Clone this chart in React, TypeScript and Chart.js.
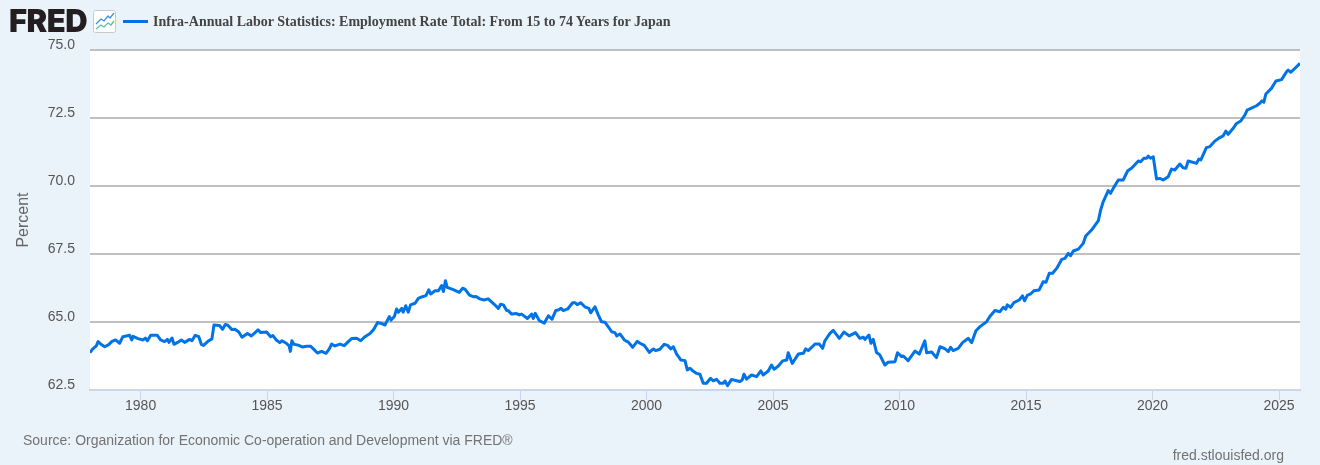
import { useEffect, useRef } from "react"
import { Chart, registerables } from "chart.js"

Chart.register(...registerables)

const seriesName = "Infra-Annual Labor Statistics: Employment Rate Total: From 15 to 74 Years for Japan"
const sourceNote = "Source: Organization for Economic Co-operation and Development via FRED®"
const siteNote = "fred.stlouisfed.org"
const tickYears = [1980, 1985, 1990, 1995, 2000, 2005, 2010, 2015, 2020, 2025]

const dates = [
  1978.0, 1978.1, 1978.25, 1978.32, 1978.42, 1978.58, 1978.74, 1978.87, 1979.01, 1979.17, 1979.3, 1979.57, 1979.65, 1979.7, 1979.9,
  1980.1, 1980.19, 1980.27, 1980.4, 1980.66, 1980.79, 1980.95, 1981.06, 1981.12, 1981.24, 1981.32, 1981.48, 1981.61, 1981.74, 1981.94,
  1982.03, 1982.16, 1982.3, 1982.4, 1982.49, 1982.66, 1982.82, 1982.9, 1983.12, 1983.24, 1983.35, 1983.45, 1983.61, 1983.74, 1983.88,
  1984.01, 1984.22, 1984.38, 1984.47, 1984.64, 1984.75, 1984.98, 1985.14, 1985.23, 1985.36, 1985.5, 1985.59, 1985.76, 1985.87, 1985.92,
  1985.98, 1986.06, 1986.23, 1986.41, 1986.56, 1986.72, 1986.83, 1986.99, 1987.16, 1987.33, 1987.46, 1987.55, 1987.68, 1987.88,
  1988.05, 1988.21, 1988.34, 1988.54, 1988.7, 1988.87, 1989.07, 1989.2, 1989.37, 1989.53, 1989.66, 1989.83, 1989.9,
  1990.03, 1990.12, 1990.19, 1990.32, 1990.38, 1990.48, 1990.58, 1990.67, 1990.85, 1990.98, 1991.11, 1991.28, 1991.39, 1991.47, 1991.64, 1991.77, 1991.9, 1991.97,
  1992.05, 1992.12, 1992.36, 1992.6, 1992.73, 1992.82, 1993.0, 1993.15, 1993.26, 1993.41, 1993.57, 1993.74,
  1993.97, 1994.14, 1994.23, 1994.34, 1994.47, 1994.53, 1994.67, 1994.86, 1994.97, 1995.06, 1995.29, 1995.46, 1995.52, 1995.6, 1995.76, 1995.96,
  1996.12, 1996.26, 1996.41, 1996.51, 1996.62, 1996.71, 1996.88, 1997.08, 1997.17, 1997.26, 1997.39, 1997.56, 1997.72, 1997.79, 1997.96,
  1998.09, 1998.22, 1998.36, 1998.53, 1998.62, 1998.75, 1998.82, 1998.95, 1999.12, 1999.28, 1999.45, 1999.63, 1999.74, 1999.91,
  2000.11, 2000.27, 2000.36, 2000.53, 2000.7, 2000.83, 2000.96, 2001.06, 2001.19, 2001.36, 2001.52, 2001.61, 2001.72, 2001.82, 2001.98,
  2002.11, 2002.24, 2002.37, 2002.53, 2002.64, 2002.77, 2002.9, 2003.03, 2003.1, 2003.2, 2003.36, 2003.56, 2003.69, 2003.78, 2003.85, 2003.95,
  2004.15, 2004.35, 2004.52, 2004.61, 2004.81, 2004.94, 2005.04, 2005.21, 2005.38, 2005.54, 2005.6, 2005.76, 2006.0, 2006.2, 2006.29, 2006.39, 2006.66, 2006.83, 2006.96,
  2007.05, 2007.25, 2007.38, 2007.62, 2007.8, 2008.01, 2008.26, 2008.43, 2008.57, 2008.63, 2008.79, 2008.87, 2008.96, 2009.09, 2009.22, 2009.42, 2009.55,
  2009.82, 2009.92, 2010.08, 2010.15, 2010.34, 2010.48, 2010.61, 2010.78, 2011.0, 2011.07, 2011.27, 2011.46, 2011.6, 2011.79, 2011.93,
  2012.02, 2012.12, 2012.32, 2012.49, 2012.72, 2012.85, 2013.02, 2013.18, 2013.44, 2013.57, 2013.77, 2013.97, 2014.1, 2014.2, 2014.26, 2014.39, 2014.52, 2014.73, 2014.86, 2014.94,
  2015.05, 2015.18, 2015.31, 2015.52, 2015.68, 2015.79, 2015.92, 2016.05, 2016.21, 2016.41, 2016.54, 2016.67, 2016.76, 2016.87,
  2017.07, 2017.26, 2017.36, 2017.59, 2017.86, 2017.95, 2018.05, 2018.25, 2018.34, 2018.47, 2018.65, 2018.84, 2019.02, 2019.17, 2019.44, 2019.53, 2019.66, 2019.77, 2019.83, 2019.92,
  2020.03, 2020.16, 2020.29, 2020.42, 2020.62, 2020.75, 2020.88, 2021.08, 2021.21, 2021.32, 2021.41, 2021.61, 2021.74, 2021.83, 2021.91,
  2022.13, 2022.27, 2022.46, 2022.66, 2022.79, 2022.9, 2022.99, 2023.19, 2023.32, 2023.49, 2023.65, 2023.74, 2023.91,
  2024.11, 2024.24, 2024.33, 2024.4, 2024.48, 2024.7, 2024.88, 2025.1, 2025.3, 2025.36, 2025.47, 2025.83,
]

const employmentRate = [
  63.87, 64.0, 64.12, 64.28, 64.19, 64.09, 64.17, 64.29, 64.34, 64.22, 64.46, 64.51, 64.34, 64.47, 64.39,
  64.34, 64.41, 64.31, 64.51, 64.51, 64.34, 64.28, 64.36, 64.25, 64.41, 64.18, 64.26, 64.34, 64.25, 64.36,
  64.31, 64.51, 64.46, 64.18, 64.14, 64.29, 64.38, 64.89, 64.87, 64.73, 64.91, 64.88, 64.72, 64.73, 64.63,
  64.44, 64.58, 64.49, 64.56, 64.71, 64.61, 64.63, 64.46, 64.5, 64.34, 64.24, 64.31, 64.22, 64.12, 63.92,
  64.31, 64.18, 64.15, 64.08, 64.11, 64.11, 64.01, 63.86, 63.92, 63.85, 64.01, 64.19, 64.12, 64.19,
  64.13, 64.28, 64.39, 64.4, 64.31, 64.46, 64.58, 64.71, 64.98, 64.94, 64.89, 65.2, 65.07,
  65.2, 65.48, 65.36, 65.5, 65.36, 65.6, 65.36, 65.63, 65.69, 65.87, 65.92, 65.97, 66.18, 66.03, 66.15, 66.15, 66.34, 66.12,
  66.52, 66.27, 66.19, 66.09, 66.24, 66.21, 65.99, 65.93, 65.94, 65.85, 65.81, 65.85,
  65.66, 65.5, 65.65, 65.63, 65.42, 65.42, 65.29, 65.31, 65.26, 65.29, 65.13, 65.29, 65.13, 65.32, 65.05, 64.96,
  65.23, 65.1, 65.42, 65.44, 65.5, 65.42, 65.48, 65.71, 65.71, 65.64, 65.71, 65.56, 65.5, 65.34, 65.56,
  65.26, 65.01, 64.99, 64.77, 64.64, 64.61, 64.49, 64.56, 64.34, 64.26, 64.07, 64.29, 64.22, 64.14,
  63.88, 64.01, 63.95, 64.0, 64.18, 64.14, 64.01, 64.09, 63.82, 63.6, 63.58, 63.24, 63.3, 63.21, 63.11,
  63.08, 62.75, 62.75, 62.93, 62.84, 62.89, 62.75, 62.75, 62.83, 62.66, 62.89, 62.84, 62.81, 62.87, 63.08, 62.9,
  63.05, 62.99, 63.2, 63.05, 63.2, 63.42, 63.26, 63.38, 63.57, 63.6, 63.87, 63.48, 63.82, 63.85, 64.01, 63.95, 64.19, 64.19, 64.03,
  64.31, 64.58, 64.69, 64.4, 64.63, 64.49, 64.61, 64.4, 64.44, 64.36, 64.52, 64.22, 64.36, 63.88, 63.79, 63.42, 63.52,
  63.54, 63.87, 63.73, 63.75, 63.58, 63.76, 63.93, 63.82, 64.31, 63.87, 63.9, 63.69, 64.09, 64.02, 63.91,
  64.07, 63.95, 64.03, 64.24, 64.4, 64.24, 64.68, 64.83, 65.01, 65.2, 65.42, 65.38, 65.54, 65.47, 65.63, 65.54, 65.71, 65.81, 65.96, 65.78,
  65.98, 66.03, 66.15, 66.18, 66.48, 66.46, 66.79, 66.79, 66.97, 67.3, 67.34, 67.52, 67.44, 67.61,
  67.68, 67.89, 68.16, 68.38, 68.73, 69.12, 69.42, 69.83, 69.73, 69.95, 70.22, 70.22, 70.56, 70.65, 70.92, 70.89, 71.02, 71.02, 71.1, 71.02,
  71.07, 70.26, 70.28, 70.22, 70.34, 70.62, 70.59, 70.81, 70.67, 70.65, 70.92, 70.87, 70.83, 70.99, 70.96,
  71.41, 71.45, 71.65, 71.78, 71.84, 72.02, 71.9, 72.12, 72.3, 72.39, 72.61, 72.79, 72.86,
  72.95, 73.04, 73.13, 73.08, 73.38, 73.59, 73.86, 73.91, 74.2, 74.26, 74.18, 74.51,
]

const points = dates.map((year, i) => ({ x: year, y: employmentRate[i] }))

// white plot background, the page around it stays pale blue
const plotBackground = {
  id: "plotBackground",
  beforeDraw(chart: Chart) {
    const { ctx, chartArea } = chart
    ctx.save()
    ctx.fillStyle = "#ffffff"
    ctx.fillRect(chartArea.left, chartArea.top, chartArea.width, chartArea.height)
    ctx.restore()
  },
}

export default function App() {
  const canvasRef = useRef<HTMLCanvasElement>(null)

  useEffect(() => {
    if (!canvasRef.current) return
    document.body.style.margin = "0"

    const chart = new Chart(canvasRef.current, {
      type: "line",
      plugins: [plotBackground],
      data: {
        datasets: [
          {
            label: seriesName,
            data: points,
            borderColor: "#0073e6",
            borderWidth: 3,
            tension: 0,
            pointRadius: 0,
            borderJoinStyle: "round",
          },
        ],
      },
      options: {
        responsive: true,
        maintainAspectRatio: false,
        animation: false,
        layout: { padding: { top: 50, right: 20 } },
        plugins: { legend: { display: false }, tooltip: { enabled: false } },
        scales: {
          x: {
            type: "linear",
            min: 1978,
            max: 2025.83,
            afterBuildTicks: (scale) => {
              scale.ticks = tickYears.map((value) => ({ value }))
            },
            afterFit: (scale) => {
              scale.height = 75
            },
            ticks: {
              autoSkip: false,
              maxRotation: 0,
              padding: -2,
              color: "#555555",
              font: { family: "'Liberation Sans', Arial, sans-serif", size: 14 },
              callback: (value) => String(value),
            },
            grid: { drawOnChartArea: false, tickLength: 10, tickColor: "#ccd6eb", tickWidth: 1 },
            border: { color: "#ccd6eb", width: 2 },
          },
          y: {
            min: 62.5,
            max: 75,
            afterFit: (scale) => {
              scale.width = 90
            },
            title: {
              display: true,
              text: "Percent",
              color: "#666666",
              padding: { top: 14, bottom: 0 },
              font: { family: "'Liberation Sans', Arial, sans-serif", size: 16 },
            },
            ticks: {
              stepSize: 2.5,
              padding: 15,
              labelOffset: -5,
              color: "#555555",
              font: { family: "'Liberation Sans', Arial, sans-serif", size: 14 },
              callback: (value) => Number(value).toFixed(1),
            },
            grid: { color: "#c0c0c0", lineWidth: 2, drawTicks: false },
            border: { display: false },
          },
        },
      },
    })

    return () => {
      chart.destroy()
    }
  }, [])

  return (
    <div style={{ position: "relative", width: 1320, height: 465, background: "#eaf2fa", overflow: "hidden" }}>
      <canvas ref={canvasRef} />
      <div
        style={{
          position: "absolute",
          left: 9,
          top: 3,
          fontFamily: "Inter, 'Liberation Sans', sans-serif",
          fontWeight: 900,
          fontSize: 31,
          lineHeight: "36px",
          letterSpacing: -0.5,
          color: "#231f20",
        }}
      >
        FRED
      </div>
      <svg width={23} height={23} style={{ position: "absolute", left: 93, top: 10 }}>
        <rect x={0.5} y={0.5} width={22} height={22} rx={2} fill="#ffffff" stroke="#c8c8c8" />
        <polyline points="3,14 8,9 11,11 15,6 17,8 21,3" fill="none" stroke="#3f8fe0" strokeWidth={1.3} />
        <polyline points="3,19 8,15 11,17 15,13 18,15 21,11" fill="none" stroke="#5bbfa5" strokeWidth={1.3} />
      </svg>
      <div style={{ position: "absolute", left: 123, top: 20, width: 25, height: 3, background: "#0073e6" }} />
      <div
        style={{
          position: "absolute",
          left: 153,
          top: 13,
          fontFamily: "'Liberation Serif', serif",
          fontWeight: 700,
          fontSize: 14,
          lineHeight: "18px",
          color: "#444444",
          whiteSpace: "nowrap",
        }}
      >
        {seriesName}
      </div>
      <div
        style={{
          position: "absolute",
          left: 23,
          top: 432,
          fontFamily: "'Liberation Sans', sans-serif",
          fontSize: 14,
          lineHeight: "16px",
          color: "#737373",
          whiteSpace: "nowrap",
        }}
      >
        {sourceNote}
      </div>
      <div
        style={{
          position: "absolute",
          right: 36,
          top: 447,
          fontFamily: "'Liberation Sans', sans-serif",
          fontSize: 14,
          lineHeight: "16px",
          color: "#737373",
          whiteSpace: "nowrap",
        }}
      >
        {siteNote}
      </div>
    </div>
  )
}
